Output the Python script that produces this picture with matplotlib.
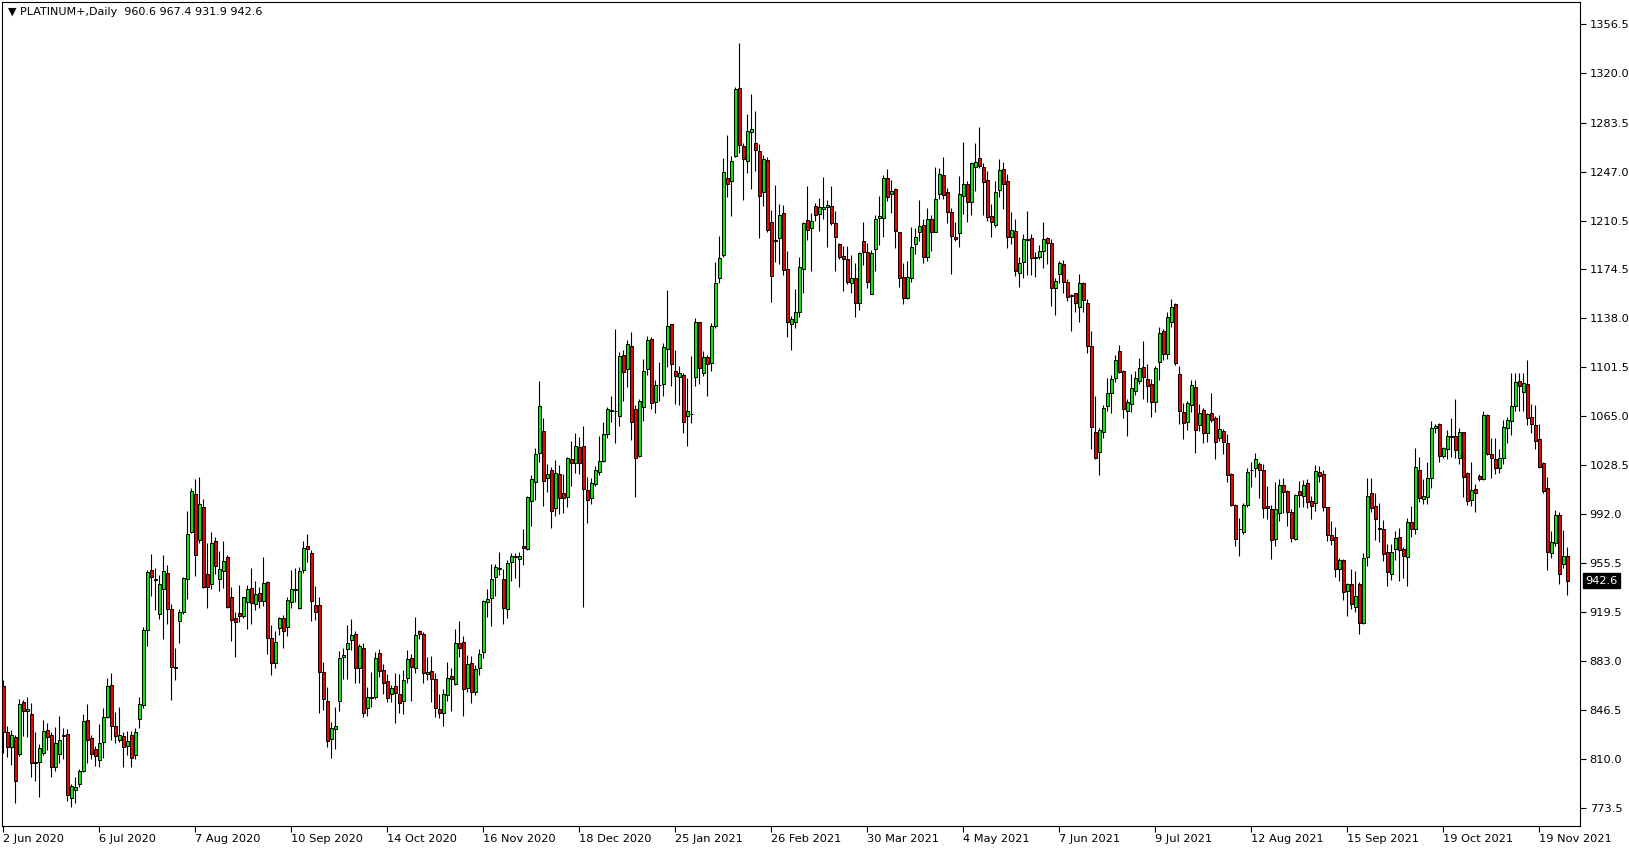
import matplotlib
matplotlib.use('Agg')
import matplotlib.pyplot as plt

# daily bars (index 0 = 2 Jun 2020)
date_labels = ['2 Jun 2020', '6 Jul 2020', '7 Aug 2020', '10 Sep 2020', '14 Oct 2020',
               '16 Nov 2020', '18 Dec 2020', '25 Jan 2021', '26 Feb 2021', '30 Mar 2021',
               '4 May 2021', '7 Jun 2021', '9 Jul 2021', '12 Aug 2021', '15 Sep 2021',
               '19 Oct 2021', '19 Nov 2021']
date_pos = [0, 24, 48, 72, 96, 120, 144, 168, 192, 216, 240, 264, 288, 312, 336, 360, 384]

price_ticks = [773.5, 810.0, 846.5, 883.0, 919.5, 955.5, 992.0, 1028.5, 1065.0, 1101.5,
               1138.0, 1174.5, 1210.5, 1247.0, 1283.5, 1320.0, 1356.5]

ohlc = [
    (864.1, 868.6, 814.5, 830.1), (829.9, 834.4, 811.0, 818.5), (819.0, 831.4, 805.1, 827.4),
    (826.2, 827.7, 777.3, 793.7), (813.8, 854.5, 812.0, 850.5), (852.0, 853.7, 827.2, 845.8),
    (845.3, 855.9, 826.4, 847.0), (843.0, 851.2, 796.6, 807.1), (807.3, 830.1, 793.4, 806.5),
    (807.8, 820.7, 781.8, 817.7), (814.0, 838.8, 812.5, 830.4), (831.1, 836.6, 816.5, 826.4),
    (827.4, 830.1, 796.6, 804.1), (803.6, 833.4, 801.1, 821.5), (813.3, 841.8, 806.6, 823.7),
    (827.6, 833.1, 810.0, 827.2), (828.2, 832.4, 778.8, 782.8), (780.5, 791.2, 774.3, 789.7),
    (787.0, 796.6, 777.3, 788.7), (790.9, 802.4, 788.7, 800.6), (800.6, 843.0, 800.4, 838.1),
    (838.8, 850.7, 807.1, 823.7), (825.4, 827.4, 810.0, 813.8), (817.0, 819.7, 804.8, 811.8),
    (808.8, 835.8, 804.1, 821.5), (822.2, 847.5, 810.8, 840.8), (841.1, 870.1, 840.1, 863.9),
    (864.6, 874.1, 824.0, 834.6), (834.1, 845.0, 821.5, 827.2), (823.7, 848.5, 822.5, 827.4),
    (826.7, 829.9, 803.6, 818.5), (819.2, 830.4, 812.5, 822.9), (827.4, 830.4, 803.6, 810.3),
    (812.5, 832.9, 810.0, 829.6), (839.3, 855.9, 832.6, 850.5), (850.2, 908.0, 847.5, 905.6),
    (905.6, 950.5, 894.2, 948.7), (950.2, 962.1, 931.4, 945.0), (943.8, 951.7, 920.4, 942.8),
    (917.5, 946.5, 914.2, 939.8), (936.6, 961.4, 899.4, 949.7), (948.0, 954.2, 910.5, 921.2),
    (921.2, 924.9, 853.9, 878.0), (877.6, 892.4, 868.8, 878.0), (912.3, 921.4, 895.9, 919.5),
    (919.0, 945.5, 917.7, 944.3), (943.5, 994.4, 929.1, 977.0), (979.0, 1011.3, 978.0, 1009.0),
    (1006.8, 1018.4, 946.2, 961.4), (972.5, 1019.9, 970.8, 999.3), (997.0, 1003.0, 936.7, 938.0),
    (947.4, 970.7, 922.3, 937.5), (939.7, 978.4, 936.0, 970.2), (972.0, 975.2, 947.2, 953.6),
    (943.9, 964.5, 935.0, 950.9), (949.9, 972.0, 936.7, 956.8), (959.8, 961.8, 922.3, 923.1),
    (930.0, 938.0, 897.8, 913.2), (914.4, 918.9, 885.4, 911.4), (918.1, 939.2, 911.7, 916.4),
    (916.4, 930.5, 914.9, 930.0), (926.8, 939.0, 906.7, 936.0), (936.7, 951.9, 909.9, 925.6),
    (924.8, 942.2, 920.6, 932.5), (933.0, 938.0, 922.1, 927.1), (927.6, 960.3, 923.8, 940.5),
    (941.2, 942.4, 887.9, 899.5), (899.5, 909.2, 872.0, 880.9), (880.9, 905.0, 877.2, 896.5),
    (907.0, 915.2, 902.0, 914.4), (914.4, 916.9, 892.6, 905.2), (908.2, 930.5, 901.3, 928.1),
    (926.3, 950.4, 922.3, 936.0), (936.2, 951.6, 926.8, 935.8), (922.3, 952.9, 921.4, 949.9),
    (950.1, 972.2, 948.4, 966.5), (968.2, 977.2, 956.6, 965.8), (963.0, 965.3, 912.7, 927.1),
    (924.3, 938.5, 913.2, 919.4), (924.3, 930.5, 843.7, 874.2), (874.2, 882.2, 846.2, 854.1),
    (852.9, 863.5, 818.9, 823.4), (824.4, 837.5, 810.2, 832.5), (832.3, 848.7, 817.4, 834.3),
    (853.1, 890.1, 845.7, 884.6), (885.4, 892.6, 869.0, 887.1), (891.3, 909.2, 869.3, 896.0),
    (898.0, 914.2, 890.8, 902.0), (902.5, 905.0, 866.5, 877.2), (877.2, 895.3, 866.5, 893.6),
    (892.1, 895.8, 841.2, 843.7), (847.4, 863.5, 841.7, 856.1), (855.8, 874.7, 848.7, 855.4),
    (856.1, 889.6, 854.4, 884.6), (888.4, 891.3, 871.0, 875.5), (876.0, 880.4, 858.1, 866.5),
    (867.8, 873.0, 852.4, 854.9), (858.1, 864.8, 852.4, 862.3), (864.3, 873.5, 836.3, 859.1),
    (858.1, 873.0, 844.2, 851.7), (853.2, 876.0, 843.5, 868.5), (869.8, 890.9, 866.1, 883.9),
    (884.7, 887.9, 852.9, 878.5), (877.2, 915.2, 873.5, 902.0), (905.3, 906.0, 899.0, 902.5),
    (902.5, 904.5, 866.6, 873.5), (872.8, 885.4, 868.5, 874.5), (875.2, 886.4, 852.4, 869.0),
    (869.0, 873.5, 840.8, 847.5), (846.7, 857.9, 840.0, 843.7), (844.2, 861.8, 834.6, 857.9),
    (857.1, 881.7, 853.2, 869.8), (871.3, 877.2, 845.7, 869.0), (865.6, 906.3, 864.8, 895.8),
    (895.8, 912.5, 885.9, 892.6), (896.6, 901.5, 842.0, 861.6), (862.8, 887.2, 859.4, 880.2),
    (880.9, 886.4, 851.7, 859.9), (859.9, 879.7, 857.4, 876.7), (877.2, 891.6, 872.3, 887.7),
    (889.1, 928.1, 885.2, 927.3), (926.8, 936.3, 915.7, 928.6), (929.3, 954.9, 909.0, 943.5),
    (945.5, 954.6, 931.3, 952.9), (951.9, 964.1, 946.7, 951.5), (943.7, 951.2, 910.0, 922.4),
    (921.1, 957.9, 914.9, 955.4), (956.6, 962.8, 942.2, 960.8), (960.5, 963.3, 944.2, 960.1),
    (958.4, 963.6, 938.0, 960.8), (968.3, 980.9, 954.1, 966.5), (965.8, 1005.7, 965.3, 1005.0),
    (1002.0, 1021.1, 983.4, 1017.9), (1015.7, 1041.0, 1002.5, 1036.8), (1037.7, 1091.1, 1031.0, 1072.5),
    (1053.9, 1063.3, 998.3, 1016.9), (1019.1, 1029.3, 1008.7, 1021.6), (1024.6, 1027.3, 981.9, 994.6),
    (996.3, 1032.3, 990.9, 1022.6), (1021.9, 1028.6, 992.1, 1003.8), (1007.5, 1021.9, 992.6, 1003.8),
    (1004.5, 1034.8, 997.1, 1033.5), (1032.8, 1046.4, 1013.2, 1029.8), (1029.8, 1052.1, 1022.4, 1042.7),
    (1041.7, 1049.7, 1021.9, 1029.8), (1042.7, 1057.6, 922.6, 1010.5), (1010.0, 1019.4, 985.6, 1002.5),
    (1003.8, 1019.1, 999.3, 1014.9), (1014.1, 1028.1, 1012.9, 1024.7), (1023.3, 1050.5, 1021.1, 1031.7),
    (1031.7, 1060.5, 1030.9, 1051.3), (1051.3, 1071.5, 1048.5, 1070.3), (1069.0, 1079.9, 1060.3, 1069.4),
    (1069.1, 1129.7, 1045.1, 1068.7), (1065.3, 1112.9, 1057.5, 1109.5), (1110.1, 1114.3, 1076.5, 1098.1),
    (1099.7, 1121.3, 1086.9, 1118.5), (1116.8, 1127.5, 1047.1, 1060.3), (1070.1, 1073.1, 1005.1, 1033.7),
    (1035.3, 1077.9, 1034.5, 1075.9), (1071.5, 1107.3, 1061.7, 1098.3), (1099.7, 1124.9, 1095.3, 1121.3),
    (1122.1, 1124.1, 1070.3, 1075.1), (1075.7, 1091.9, 1067.5, 1088.5), (1088.1, 1105.3, 1076.5, 1088.5),
    (1089.1, 1119.3, 1080.1, 1116.3), (1114.9, 1159.1, 1101.7, 1131.7), (1133.3, 1133.9, 1087.7, 1103.7),
    (1098.9, 1114.3, 1074.3, 1094.7), (1094.1, 1102.3, 1072.9, 1096.9), (1095.3, 1097.0, 1052.1, 1060.3),
    (1064.7, 1093.3, 1042.9, 1068.9), (1066.6, 1109.8, 1059.7, 1066.2), (1094.1, 1138.1, 1087.7, 1134.7),
    (1134.7, 1135.3, 1089.1, 1100.9), (1097.0, 1113.5, 1094.7, 1108.7), (1108.7, 1110.1, 1080.1, 1103.7),
    (1104.5, 1134.5, 1098.9, 1131.7), (1131.7, 1179.5, 1130.3, 1164.1), (1167.5, 1199.1, 1163.9, 1182.9),
    (1184.9, 1257.1, 1183.7, 1246.5), (1242.5, 1274.5, 1228.3, 1237.5), (1239.7, 1258.5, 1213.7, 1254.9),
    (1258.5, 1310.3, 1257.7, 1308.3), (1308.9, 1342.5, 1260.5, 1266.9), (1266.3, 1268.3, 1226.0, 1256.5),
    (1255.1, 1290.1, 1245.9, 1277.5), (1276.7, 1304.7, 1234.1, 1278.4), (1268.3, 1292.1, 1247.3, 1263.3),
    (1262.1, 1267.5, 1197.7, 1229.1), (1231.9, 1259.1, 1221.5, 1256.3), (1255.7, 1257.7, 1201.9, 1203.3),
    (1209.5, 1218.5, 1150.1, 1168.9), (1195.7, 1237.0, 1179.5, 1195.3), (1197.7, 1223.0, 1178.1, 1214.5),
    (1215.9, 1222.1, 1170.3, 1173.7), (1174.5, 1188.0, 1124.1, 1135.3), (1133.9, 1139.5, 1114.3, 1137.3),
    (1134.8, 1159.6, 1130.3, 1142.7), (1142.7, 1183.7, 1139.0, 1175.7), (1174.2, 1209.7, 1156.9, 1208.5),
    (1210.9, 1236.5, 1196.1, 1203.5), (1204.7, 1215.9, 1173.2, 1210.2), (1221.6, 1223.4, 1210.2, 1214.7),
    (1215.2, 1227.1, 1203.0, 1220.4), (1218.9, 1243.2, 1211.7, 1220.4), (1220.4, 1225.8, 1190.6, 1222.1),
    (1221.4, 1236.5, 1207.2, 1208.5), (1208.5, 1217.6, 1173.2, 1198.5), (1192.8, 1193.6, 1181.9, 1183.7),
    (1184.2, 1191.8, 1158.1, 1181.7), (1181.9, 1191.8, 1163.1, 1164.6), (1164.3, 1184.9, 1156.4, 1167.8),
    (1167.5, 1178.7, 1138.5, 1148.9), (1149.4, 1186.9, 1143.9, 1186.1), (1195.3, 1209.7, 1177.5, 1187.4),
    (1187.1, 1193.6, 1160.6, 1165.0), (1155.9, 1188.6, 1155.6, 1186.1), (1189.1, 1214.7, 1173.2, 1211.7),
    (1212.7, 1229.1, 1192.3, 1213.9), (1212.2, 1244.4, 1198.5, 1242.0), (1242.0, 1248.9, 1225.1, 1228.3),
    (1230.3, 1240.7, 1215.9, 1232.8), (1233.8, 1234.5, 1189.9, 1202.8), (1201.8, 1202.2, 1161.3, 1168.0),
    (1168.3, 1178.7, 1148.2, 1152.6), (1152.6, 1180.7, 1151.9, 1168.3), (1167.5, 1205.5, 1165.0, 1190.6),
    (1192.8, 1205.2, 1185.6, 1198.0), (1201.8, 1225.8, 1195.3, 1206.5), (1207.2, 1211.7, 1178.7, 1183.7),
    (1183.2, 1219.6, 1180.7, 1211.7), (1211.4, 1214.7, 1187.9, 1201.8), (1202.3, 1250.6, 1201.8, 1226.3),
    (1230.1, 1249.4, 1226.3, 1244.9), (1244.4, 1257.6, 1226.6, 1229.6), (1232.0, 1235.0, 1208.5, 1217.1),
    (1216.7, 1219.6, 1170.5, 1199.3), (1198.0, 1209.7, 1195.3, 1196.6), (1201.0, 1243.7, 1190.6, 1230.1),
    (1228.8, 1268.8, 1215.4, 1237.5), (1237.5, 1240.2, 1209.7, 1224.6), (1224.1, 1254.4, 1214.7, 1253.1),
    (1250.1, 1268.0, 1232.5, 1253.9), (1256.8, 1279.9, 1249.5, 1251.4), (1250.1, 1253.1, 1214.7, 1239.5),
    (1240.7, 1247.7, 1210.5, 1213.4), (1213.9, 1222.8, 1198.5, 1209.2), (1207.2, 1240.0, 1206.0, 1232.0),
    (1233.0, 1256.0, 1228.0, 1248.0), (1249.0, 1254.0, 1218.9, 1238.0), (1240.0, 1245.0, 1189.8, 1198.5),
    (1198.5, 1216.6, 1192.8, 1203.5), (1202.7, 1211.7, 1169.2, 1173.2), (1171.7, 1183.6, 1161.3, 1179.2),
    (1179.9, 1200.2, 1168.0, 1196.5), (1196.7, 1217.6, 1170.0, 1196.3), (1197.3, 1200.5, 1170.2, 1182.4),
    (1183.3, 1187.3, 1168.7, 1182.9), (1183.6, 1192.3, 1181.9, 1187.8), (1188.1, 1209.2, 1175.4, 1196.5),
    (1197.3, 1198.0, 1177.9, 1193.5), (1193.5, 1196.5, 1147.2, 1160.5), (1160.5, 1168.0, 1140.5, 1165.5),
    (1170.5, 1180.4, 1163.8, 1179.2), (1178.2, 1181.1, 1156.6, 1165.0), (1164.5, 1167.0, 1150.9, 1153.8),
    (1154.8, 1155.6, 1128.5, 1154.4), (1156.3, 1156.7, 1142.2, 1148.9), (1146.4, 1170.7, 1135.2, 1163.8),
    (1163.8, 1165.0, 1142.2, 1151.4), (1148.9, 1152.1, 1112.2, 1117.4), (1117.4, 1128.3, 1040.2, 1057.1),
    (1052.9, 1079.9, 1033.3, 1033.5), (1038.0, 1055.9, 1021.1, 1054.6), (1052.9, 1073.2, 1048.9, 1070.7),
    (1072.7, 1093.6, 1069.0, 1081.9), (1082.4, 1095.5, 1067.0, 1092.6), (1093.1, 1110.4, 1090.6, 1106.7),
    (1113.4, 1117.9, 1096.8, 1097.5), (1098.5, 1099.3, 1063.3, 1070.0), (1069.0, 1077.7, 1050.4, 1075.2),
    (1073.7, 1096.3, 1067.8, 1085.6), (1083.9, 1098.5, 1080.7, 1093.1), (1091.3, 1108.4, 1088.6, 1100.5),
    (1101.3, 1120.9, 1077.7, 1094.3), (1092.6, 1103.5, 1075.2, 1087.6), (1088.8, 1092.6, 1064.5, 1075.7),
    (1075.7, 1102.5, 1068.3, 1100.5), (1105.5, 1131.5, 1091.8, 1126.6), (1128.3, 1129.8, 1106.7, 1110.9),
    (1110.9, 1142.2, 1107.5, 1138.5), (1135.2, 1152.1, 1131.5, 1146.4), (1148.1, 1148.9, 1103.0, 1104.7),
    (1096.3, 1102.5, 1058.8, 1069.0), (1067.8, 1074.5, 1047.7, 1059.6), (1060.3, 1076.4, 1054.6, 1074.9),
    (1073.2, 1091.8, 1068.3, 1088.1), (1086.4, 1091.8, 1037.3, 1054.6), (1058.3, 1074.0, 1054.1, 1067.0),
    (1069.5, 1070.7, 1044.7, 1052.1), (1052.6, 1067.5, 1045.4, 1066.5), (1067.0, 1081.9, 1060.3, 1062.1),
    (1063.8, 1065.3, 1032.8, 1045.4), (1048.4, 1065.8, 1046.4, 1055.4), (1053.9, 1055.4, 1036.5, 1045.4),
    (1044.7, 1051.6, 1016.2, 1021.1), (1021.9, 1022.3, 998.3, 998.8), (998.8, 999.2, 968.5, 973.2),
    (981.2, 989.4, 961.1, 980.8), (979.0, 1000.5, 977.0, 998.8), (998.8, 1026.1, 997.6, 1023.1),
    (1025.1, 1031.0, 1012.0, 1024.7), (1026.1, 1037.3, 1019.4, 1032.8), (1029.3, 1030.6, 1003.8, 1024.6),
    (1024.9, 1029.3, 988.9, 996.3), (998.1, 1012.9, 988.1, 996.3), (995.8, 998.8, 958.4, 972.7),
    (973.2, 1016.2, 968.5, 995.8), (992.6, 1018.1, 987.1, 1013.7), (1013.7, 1018.6, 992.6, 1008.7),
    (1009.2, 1010.0, 983.4, 993.3), (993.8, 995.8, 971.5, 974.5), (973.5, 1007.0, 972.7, 1006.2),
    (1009.2, 1016.7, 997.1, 1006.2), (1005.7, 1017.4, 997.1, 1013.7), (1014.9, 1017.9, 996.8, 1001.3),
    (1001.8, 1005.5, 988.4, 998.3), (1000.0, 1028.6, 994.6, 1024.1), (1023.1, 1027.8, 1015.7, 1020.6),
    (1021.9, 1024.9, 994.6, 997.6), (997.1, 997.6, 972.0, 976.5), (976.5, 986.9, 969.0, 972.7),
    (974.7, 982.7, 945.0, 950.9), (951.2, 959.6, 942.2, 957.9), (957.9, 958.6, 928.1, 934.3),
    (935.0, 940.5, 916.4, 940.0), (940.0, 951.2, 921.4, 925.1), (923.1, 949.7, 919.4, 931.1),
    (940.0, 941.7, 902.5, 911.2), (911.2, 962.8, 910.2, 959.1), (960.3, 1018.6, 953.4, 1005.5),
    (1007.5, 1018.6, 993.8, 996.8), (998.3, 1007.5, 972.7, 988.4), (981.6, 1000.5, 971.5, 981.2),
    (980.9, 987.6, 957.4, 962.3), (963.6, 969.5, 938.8, 949.2), (947.2, 969.5, 943.0, 964.1),
    (965.8, 979.5, 957.9, 974.0), (974.7, 981.9, 942.2, 965.3), (966.1, 967.8, 944.7, 961.1),
    (960.3, 989.4, 938.8, 985.9), (985.9, 998.1, 975.2, 980.7), (980.7, 1041.5, 977.2, 1026.8),
    (1024.9, 1034.3, 1001.3, 1004.3), (1003.0, 1018.1, 999.6, 1005.5), (1005.0, 1031.1, 999.6, 1018.6),
    (1018.6, 1061.3, 1011.7, 1055.9), (1055.9, 1059.1, 1052.2, 1057.6), (1059.1, 1059.5, 1031.1, 1035.3),
    (1035.5, 1042.2, 1033.5, 1041.0), (1040.2, 1054.6, 1032.8, 1050.2), (1049.9, 1063.8, 1034.3, 1049.5),
    (1050.2, 1077.7, 1034.0, 1039.8), (1033.5, 1055.9, 1029.1, 1052.9), (1052.9, 1053.3, 1005.0, 1019.9),
    (1022.4, 1023.1, 998.8, 1001.8), (1002.3, 1031.1, 998.1, 1010.0), (1010.7, 1014.2, 993.4, 1007.5),
    (1020.4, 1022.1, 1016.9, 1017.9), (1018.1, 1068.8, 1017.4, 1065.8), (1065.8, 1066.2, 1036.0, 1036.8),
    (1036.8, 1048.4, 1019.1, 1033.5), (1032.8, 1048.4, 1021.9, 1026.6), (1026.1, 1040.5, 1022.9, 1033.5),
    (1033.5, 1062.1, 1029.3, 1056.6), (1055.9, 1064.3, 1044.7, 1061.8), (1061.6, 1096.8, 1050.9, 1072.5),
    (1072.5, 1096.8, 1068.8, 1090.1), (1091.1, 1096.8, 1068.8, 1087.6), (1083.2, 1096.8, 1068.8, 1089.4),
    (1088.9, 1106.7, 1058.4, 1063.3), (1064.1, 1074.0, 1052.2, 1058.8), (1058.3, 1073.2, 1040.5, 1046.7),
    (1047.7, 1058.8, 1026.1, 1026.8), (1030.3, 1030.7, 1008.0, 1009.2), (1011.7, 1019.4, 950.4, 963.6),
    (962.8, 979.5, 959.1, 971.5), (970.3, 995.1, 968.5, 991.4), (991.4, 993.8, 939.8, 947.2),
    (954.6, 980.2, 952.2, 960.8), (960.6, 967.4, 931.9, 942.6),
]
opens = [b[0] for b in ohlc]
highs = [b[1] for b in ohlc]
lows = [b[2] for b in ohlc]
closes = [b[3] for b in ohlc]

W, H = 1629, 850
fig = plt.figure(figsize=(W / 100, H / 100), dpi=100)
fig.patch.set_facecolor('white')
# plot box: x 2..1580 px, y 2..826 px
ax = fig.add_axes([2 / W, 1 - 826 / H, 1578 / W, 824 / H])
ax.set_facecolor('white')

idx = list(range(len(opens)))
up = [c >= o for o, c in zip(opens, closes)]
body_col = ['#00f000' if u else '#f00000' for u in up]
bottoms = [min(o, c) for o, c in zip(opens, closes)]
heights = [abs(c - o) for o, c in zip(opens, closes)]

ax.vlines(idx, lows, highs, colors='black', linewidth=0.8, zorder=2)
ax.bar(idx, heights, bottom=bottoms, width=0.62, color=body_col,
       edgecolor='black', linewidth=0.7, zorder=3)

ax.set_xlim(-0.325, -0.325 + 1578 / 4)
ax.set_ylim(759.9, 1373.2)

ax.yaxis.tick_right()
ax.set_yticks(price_ticks)
ax.set_yticklabels(['%.1f' % p for p in price_ticks], fontsize=8.2)
ax.set_xticks(date_pos)
ax.set_xticklabels(date_labels, fontsize=8.2, ha='left')
ax.tick_params(axis='both', direction='out', length=4, width=0.8, colors='black', pad=2)
ax.tick_params(axis='y', pad=3)
for s in ax.spines.values():
    s.set_linewidth(0.8)
    s.set_color('black')

fig.text(8 / W, 1 - 12 / H, '\u25bc PLATINUM+,Daily  960.6 967.4 931.9 942.6',
         fontsize=8, va='center', ha='left', color='black')

# current price marker on the price scale
ax.annotate('%.1f' % closes[-1], xy=(1.0, closes[-1]), xycoords=('axes fraction', 'data'),
            xytext=(4, 0), textcoords='offset points', va='center', ha='left',
            fontsize=8.2, color='white',
            bbox=dict(boxstyle='square,pad=0.2', fc='black', ec='black'))

fig.savefig('out.png', dpi=100, facecolor='white')
